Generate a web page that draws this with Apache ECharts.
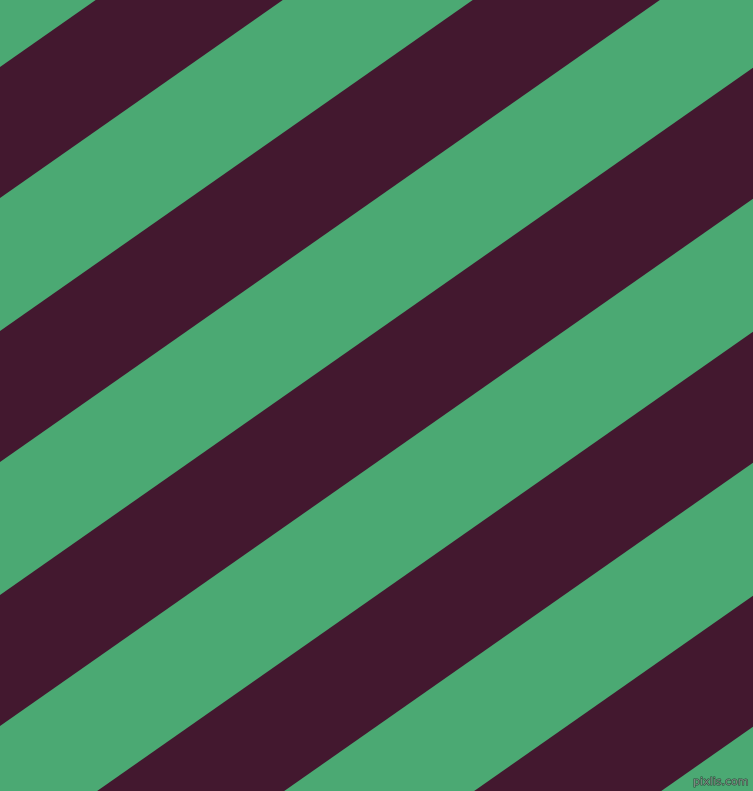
<!DOCTYPE html>
<html>
<head>
<meta charset="utf-8">
<script src="https://cdn.jsdelivr.net/npm/echarts@6/dist/echarts.min.js"></script>
<style>
  html, body { margin: 0; padding: 0; }
  #main { width: 753px; height: 791px; }
</style>
</head>
<body>
<div id="main"></div>
<script>
// diagonal stripes
var slope = 0.7002;            // fall in y per unit x (about 35 degrees)
var stripeTop = [67, 331, 595, 859, 1123];    // y where each dark band's upper edge meets x=0
var stripeBottom = [198, 462, 726, 990, 1254]; // y where its lower edge meets x=0
var green = '#4ba973';
var plum = '#43182f';

(function(){

    var chart = echarts.init(document.getElementById('main'));

    var data = stripeTop.map(function(t, i){ return [t, stripeBottom[i]]; });

    option = {
        backgroundColor: green,
        animation: false,
        grid: { left: 0, right: 0, top: 0, bottom: 0 },
        xAxis: { type: 'value', min: 0, max: 753, show: false },
        yAxis: { type: 'value', min: 0, max: 791, inverse: true, show: false },
        graphic: [{
            type: 'text',
            right: 4,
            bottom: 3,
            style: {
                text: 'pixlis.com',
                fontSize: 11,
                fontFamily: 'DejaVu Sans',
                fill: '#7a8a80',
                stroke: '#2e4a3a',
                lineWidth: 1
            }
        }],
        series: [{
            type: 'custom',
            clip: true,
            data: data,
            renderItem: function(params, api){
                var t = api.value(0), b = api.value(1);
                var xr = 753;
                var pts = [
                    api.coord([0, t]),
                    api.coord([xr, t - slope * xr]),
                    api.coord([xr, b - slope * xr]),
                    api.coord([0, b])
                ];
                return {
                    type: 'polygon',
                    shape: { points: pts },
                    style: { fill: plum }
                };
            }
        }]
    };

    chart.setOption(option);
})();
</script>
</body>
</html>
